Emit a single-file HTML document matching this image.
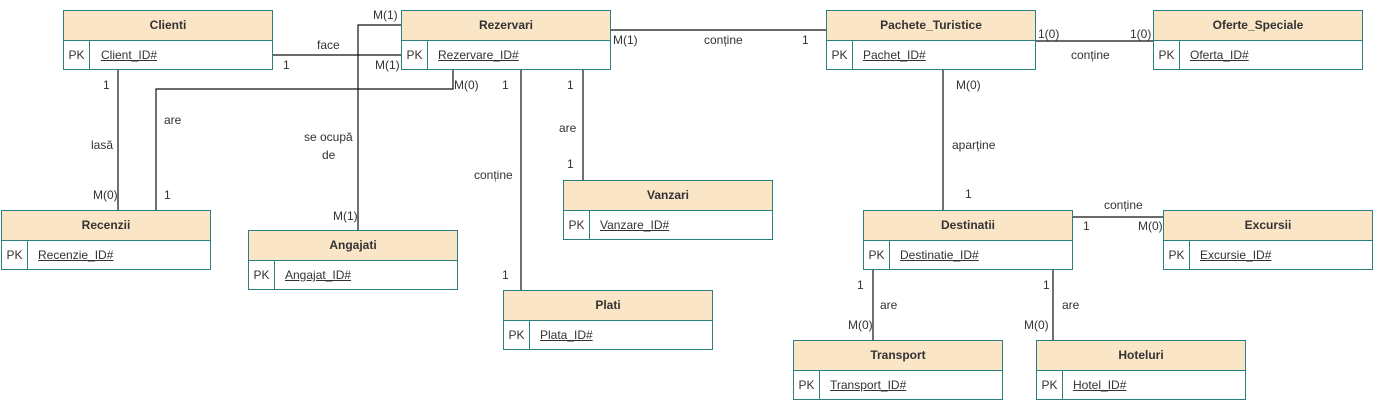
<!DOCTYPE html>
<html><head><meta charset="utf-8">
<style>
html,body{margin:0;padding:0;background:#fff;}
body{width:1374px;height:401px;position:relative;overflow:hidden;font-family:"Liberation Sans",Arial,sans-serif;font-size:12px;color:#333;}
.box{position:absolute;width:208px;height:58px;border:1px solid #2a7f7f;background:#fff;}
.hd{height:29px;border-bottom:1px solid #2a7f7f;background:#fae5c7;text-align:center;line-height:29px;font-weight:bold;font-size:12px;color:#333;}
.row{height:29px;line-height:29px;position:relative;}
.pk{position:absolute;left:0;top:0;width:25px;height:29px;border-right:1px solid #2a7f7f;text-align:center;}
.id{position:absolute;left:36px;top:0;text-decoration:underline;}
.l{position:absolute;font-size:12px;color:#333;white-space:nowrap;line-height:14px;}
svg{position:absolute;left:0;top:0;}
</style></head><body>
<svg width="1374" height="401">
<g stroke="#111" stroke-width="1.2" fill="none">
<path d="M273 55 H401"/>
<path d="M401 25 H358 V230"/>
<path d="M453 70 V89 H156 V210"/>
<path d="M118 70 V210"/>
<path d="M521 70 V290"/>
<path d="M583 70 V180"/>
<path d="M611 30 H826"/>
<path d="M1036 41 H1153"/>
<path d="M943 70 V210"/>
<path d="M1073 217 H1163"/>
<path d="M873 270 V340"/>
<path d="M1053 270 V340"/>
</g>
</svg>

<div class="box" style="left:63px;top:10px"><div class="hd">Clienti</div><div class="row"><div class="pk">PK</div><div class="id" style="left:37px">Client_ID#</div></div></div>
<div class="box" style="left:401px;top:10px"><div class="hd">Rezervari</div><div class="row"><div class="pk">PK</div><div class="id">Rezervare_ID#</div></div></div>
<div class="box" style="left:826px;top:10px"><div class="hd">Pachete_Turistice</div><div class="row"><div class="pk">PK</div><div class="id">Pachet_ID#</div></div></div>
<div class="box" style="left:1153px;top:10px"><div class="hd">Oferte_Speciale</div><div class="row"><div class="pk">PK</div><div class="id">Oferta_ID#</div></div></div>
<div class="box" style="left:1px;top:210px"><div class="hd">Recenzii</div><div class="row"><div class="pk">PK</div><div class="id">Recenzie_ID#</div></div></div>
<div class="box" style="left:248px;top:230px"><div class="hd">Angajati</div><div class="row"><div class="pk">PK</div><div class="id">Angajat_ID#</div></div></div>
<div class="box" style="left:563px;top:180px"><div class="hd">Vanzari</div><div class="row"><div class="pk">PK</div><div class="id">Vanzare_ID#</div></div></div>
<div class="box" style="left:503px;top:290px"><div class="hd">Plati</div><div class="row"><div class="pk">PK</div><div class="id">Plata_ID#</div></div></div>
<div class="box" style="left:863px;top:210px"><div class="hd">Destinatii</div><div class="row"><div class="pk">PK</div><div class="id">Destinatie_ID#</div></div></div>
<div class="box" style="left:1163px;top:210px"><div class="hd">Excursii</div><div class="row"><div class="pk">PK</div><div class="id">Excursie_ID#</div></div></div>
<div class="box" style="left:793px;top:340px"><div class="hd">Transport</div><div class="row"><div class="pk">PK</div><div class="id">Transport_ID#</div></div></div>
<div class="box" style="left:1036px;top:340px"><div class="hd">Hoteluri</div><div class="row"><div class="pk">PK</div><div class="id">Hotel_ID#</div></div></div>

<div class="l" style="left:317px;top:38px">face</div>
<div class="l" style="left:283px;top:58px">1</div>
<div class="l" style="left:375px;top:58px">M(1)</div>
<div class="l" style="left:373px;top:8px">M(1)</div>
<div class="l" style="left:304px;top:130px">se ocupă</div>
<div class="l" style="left:322px;top:148px">de</div>
<div class="l" style="left:333px;top:209px">M(1)</div>
<div class="l" style="left:454px;top:78px">M(0)</div>
<div class="l" style="left:164px;top:113px">are</div>
<div class="l" style="left:164px;top:188px">1</div>
<div class="l" style="left:103px;top:78px">1</div>
<div class="l" style="left:91px;top:138px">lasă</div>
<div class="l" style="left:93px;top:188px">M(0)</div>
<div class="l" style="left:502px;top:78px">1</div>
<div class="l" style="left:474px;top:168px">conține</div>
<div class="l" style="left:502px;top:268px">1</div>
<div class="l" style="left:567px;top:78px">1</div>
<div class="l" style="left:559px;top:121px">are</div>
<div class="l" style="left:567px;top:157px">1</div>
<div class="l" style="left:613px;top:33px">M(1)</div>
<div class="l" style="left:704px;top:33px">conține</div>
<div class="l" style="left:802px;top:33px">1</div>
<div class="l" style="left:1038px;top:27px">1(0)</div>
<div class="l" style="left:1130px;top:27px">1(0)</div>
<div class="l" style="left:1071px;top:48px">conține</div>
<div class="l" style="left:956px;top:78px">M(0)</div>
<div class="l" style="left:952px;top:138px">aparține</div>
<div class="l" style="left:965px;top:187px">1</div>
<div class="l" style="left:1104px;top:198px">conține</div>
<div class="l" style="left:1083px;top:219px">1</div>
<div class="l" style="left:1138px;top:219px">M(0)</div>
<div class="l" style="left:857px;top:278px">1</div>
<div class="l" style="left:880px;top:298px">are</div>
<div class="l" style="left:848px;top:318px">M(0)</div>
<div class="l" style="left:1043px;top:278px">1</div>
<div class="l" style="left:1062px;top:298px">are</div>
<div class="l" style="left:1024px;top:318px">M(0)</div>
</body></html>
